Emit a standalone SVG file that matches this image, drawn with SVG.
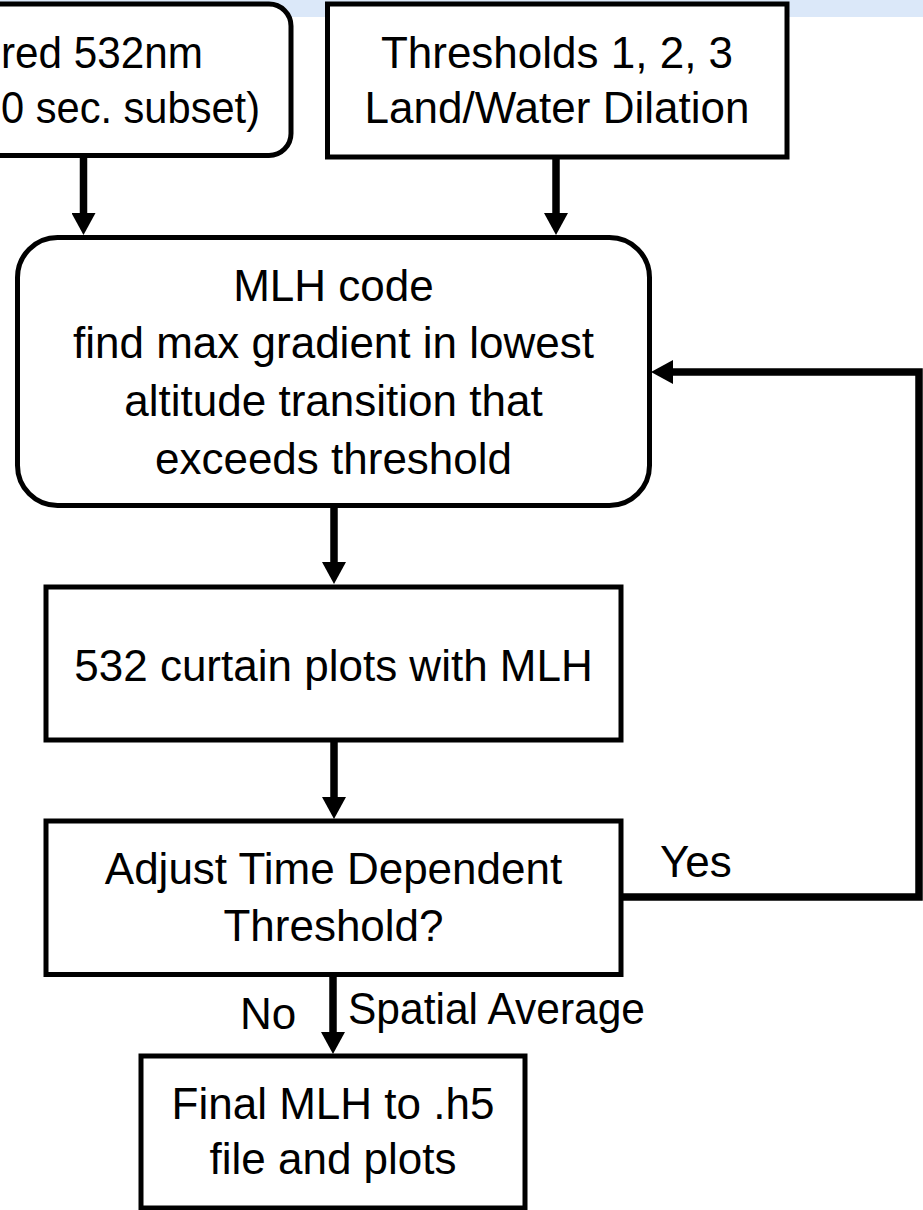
<svg xmlns="http://www.w3.org/2000/svg" width="923" height="1210" viewBox="0 0 923 1210">
  <style>
    .box { fill: #ffffff; stroke: #000000; stroke-width: 5; }
    .lbl { font-family: "Liberation Sans", Arial, sans-serif; font-size: 44px; fill: #000000; }
    .mid { text-anchor: middle; }
    .wire { fill: none; stroke: #000000; stroke-width: 7.5; stroke-linejoin: miter; }
  </style>
  <defs>
    <marker id="head" viewBox="0 0 22 24" refX="0" refY="12" markerWidth="22" markerHeight="24" markerUnits="userSpaceOnUse" orient="auto">
      <path d="M0,0 L22,12 L0,24 Z" fill="#000000"/>
    </marker>
  </defs>

  <rect width="923" height="1210" fill="#ffffff"/>
  <!-- light header band -->
  <rect x="0" y="0" width="923" height="17" fill="#dbe8f9"/>

  <g id="input-data">
    <rect class="box" x="-60" y="4" width="351" height="151.5" rx="22"/>
    <text class="lbl" x="1" y="68" textLength="202" lengthAdjust="spacingAndGlyphs">red 532nm</text>
    <text class="lbl" x="1" y="123" textLength="259" lengthAdjust="spacingAndGlyphs">0 sec. subset)</text>
  </g>

  <g id="thresholds">
    <rect class="box" x="327.5" y="4" width="459.5" height="153"/>
    <text class="lbl mid" x="557" y="68">Thresholds 1, 2, 3</text>
    <text class="lbl mid" x="557" y="123">Land/Water Dilation</text>
  </g>

  <g id="mlh-code">
    <rect class="box" x="17.5" y="237.5" width="632" height="268" rx="40"/>
    <text class="lbl mid" x="333.5" y="301">MLH code</text>
    <text class="lbl mid" x="333.5" y="358">find max gradient in lowest</text>
    <text class="lbl mid" x="333.5" y="416">altitude transition that</text>
    <text class="lbl mid" x="333.5" y="474">exceeds threshold</text>
  </g>

  <g id="curtain-plots">
    <rect class="box" x="46" y="587" width="575" height="153"/>
    <text class="lbl mid" x="333.5" y="681">532 curtain plots with MLH</text>
  </g>

  <g id="adjust-threshold">
    <rect class="box" x="46" y="821" width="575" height="153.5"/>
    <text class="lbl mid" x="333.5" y="884">Adjust Time Dependent</text>
    <text class="lbl mid" x="333.5" y="941">Threshold?</text>
  </g>

  <g id="final-output">
    <rect class="box" x="141" y="1056" width="384" height="152"/>
    <text class="lbl mid" x="333" y="1119">Final MLH to .h5</text>
    <text class="lbl mid" x="333" y="1174">file and plots</text>
  </g>

  <g id="connectors">
    <line class="wire" x1="83.5" y1="158" x2="83.5" y2="213" marker-end="url(#head)"/>
    <line class="wire" x1="556" y1="159" x2="556" y2="213" marker-end="url(#head)"/>
    <line class="wire" x1="334" y1="508" x2="334" y2="562" marker-end="url(#head)"/>
    <line class="wire" x1="334" y1="742" x2="334" y2="797" marker-end="url(#head)"/>
    <line class="wire" x1="333" y1="977" x2="333" y2="1032" marker-end="url(#head)"/>
    <polyline class="wire" points="623,897 919,897 919,372 673,372" marker-end="url(#head)"/>
    <text class="lbl" x="660" y="877">Yes</text>
    <text class="lbl" x="240" y="1029">No</text>
    <text class="lbl" x="348" y="1024" textLength="297" lengthAdjust="spacingAndGlyphs">Spatial Average</text>
  </g>
</svg>
